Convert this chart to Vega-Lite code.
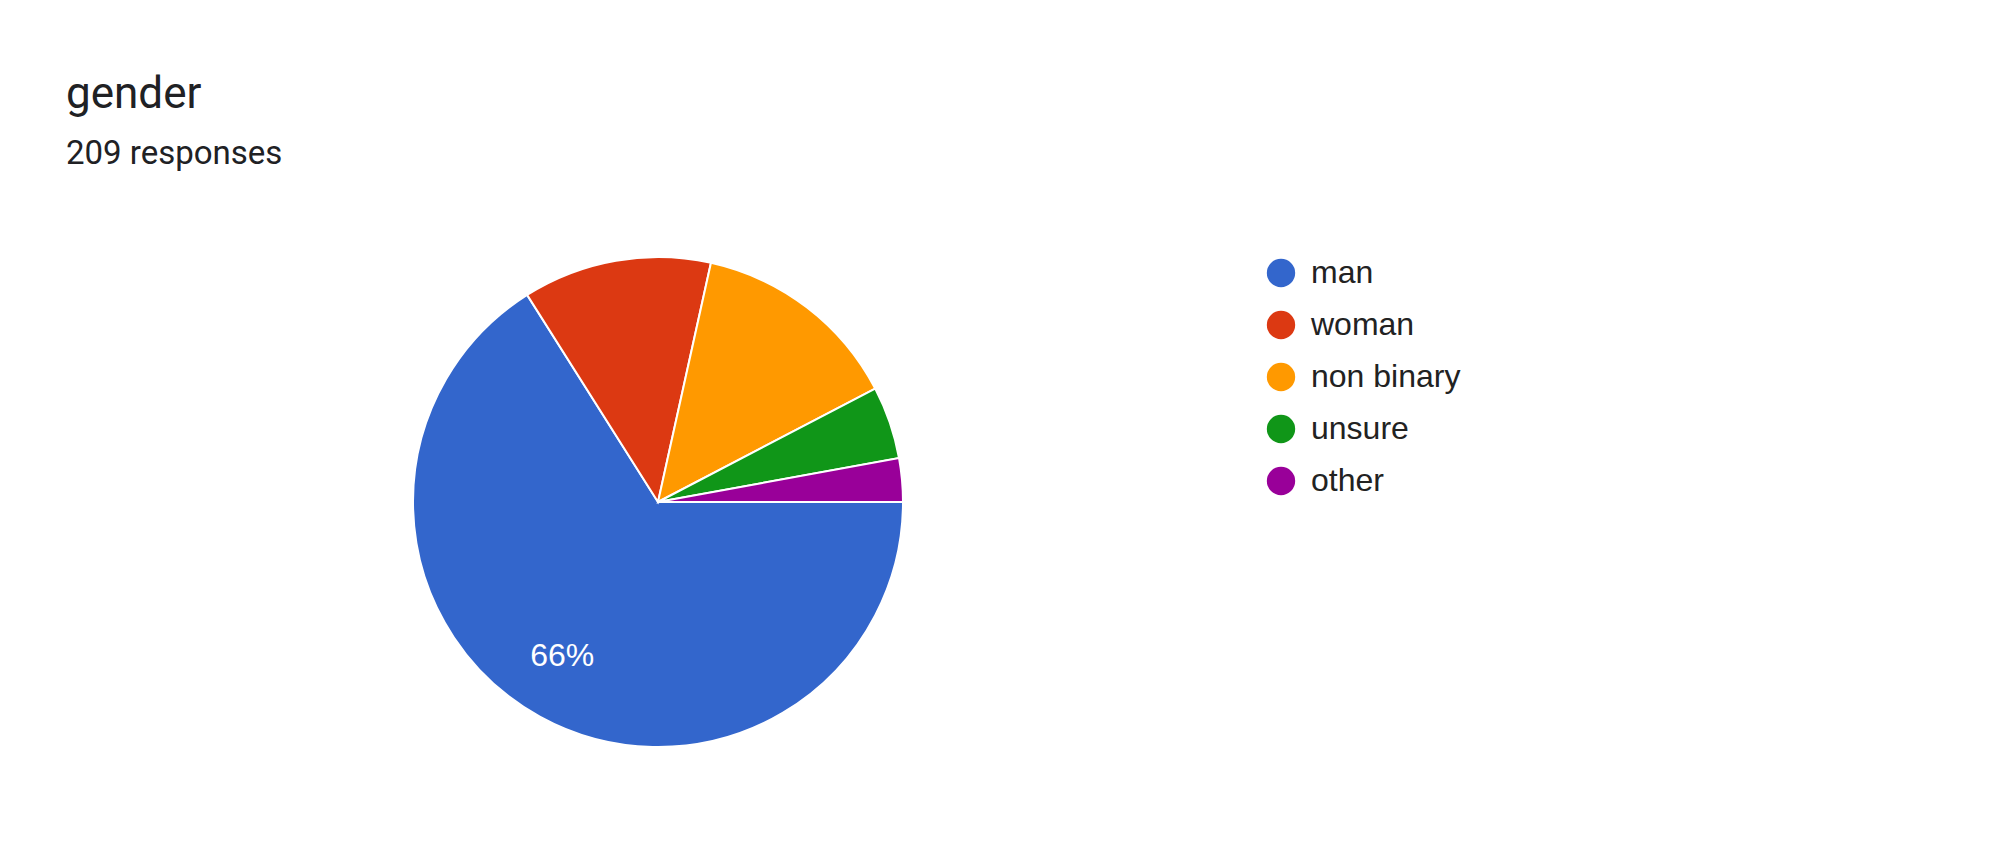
{
  "$schema": "https://vega.github.io/schema/vega-lite/v6.json",
  "width": 490,
  "height": 490,
  "autosize": {"type": "none"},
  "padding": {"left": 413, "top": 257, "right": 1096, "bottom": 95},
  "background": "white",
  "title": {
    "text": "gender",
    "subtitle": "209 responses",
    "anchor": "start",
    "frame": "group",
    "dx": -347,
    "offset": 82,
    "font": "Roboto",
    "fontSize": 44,
    "fontWeight": "normal",
    "color": "#202124",
    "subtitleFont": "Roboto",
    "subtitleFontSize": 33,
    "subtitleColor": "#202124",
    "subtitlePadding": 21
  },
  "data": {
    "values": [
      {"answer": "man", "count": 138, "idx": 1, "label": "66%"},
      {"answer": "woman", "count": 26, "idx": 2, "label": ""},
      {"answer": "non binary", "count": 29, "idx": 3, "label": ""},
      {"answer": "unsure", "count": 10, "idx": 4, "label": ""},
      {"answer": "other", "count": 6, "idx": 5, "label": ""}
    ]
  },
  "layer": [
    {
      "mark": {"type": "arc", "outerRadius": 245, "stroke": "white", "strokeWidth": 2},
      "encoding": {
        "theta": {
          "field": "count",
          "type": "quantitative",
          "stack": true,
          "scale": {"range": [1.5707963, 7.8539816]}
        },
        "order": {"field": "idx", "type": "quantitative"},
        "color": {
          "field": "answer",
          "type": "nominal",
          "scale": {
            "domain": ["man", "woman", "non binary", "unsure", "other"],
            "range": ["#3366cc", "#dc3912", "#ff9900", "#109618", "#990099"]
          },
          "legend": {
            "title": null,
            "orient": "right",
            "offset": 362,
            "padding": 0,
            "symbolType": "circle",
            "symbolSize": 804,
            "symbolStrokeWidth": 0,
            "symbolOpacity": 1,
            "labelFont": "Liberation Sans",
            "labelFontSize": 32,
            "labelColor": "#222222",
            "labelOffset": 14,
            "labelLimit": 400,
            "rowPadding": 20
          }
        }
      }
    },
    {
      "mark": {
        "type": "text",
        "radius": 182,
        "font": "Liberation Sans",
        "fontSize": 32,
        "fill": "white",
        "dx": -8,
        "dy": -5
      },
      "encoding": {
        "theta": {"field": "count", "type": "quantitative", "stack": true},
        "order": {"field": "idx", "type": "quantitative"},
        "text": {"field": "label", "type": "nominal"}
      }
    }
  ],
  "config": {"view": {"stroke": null}}
}
